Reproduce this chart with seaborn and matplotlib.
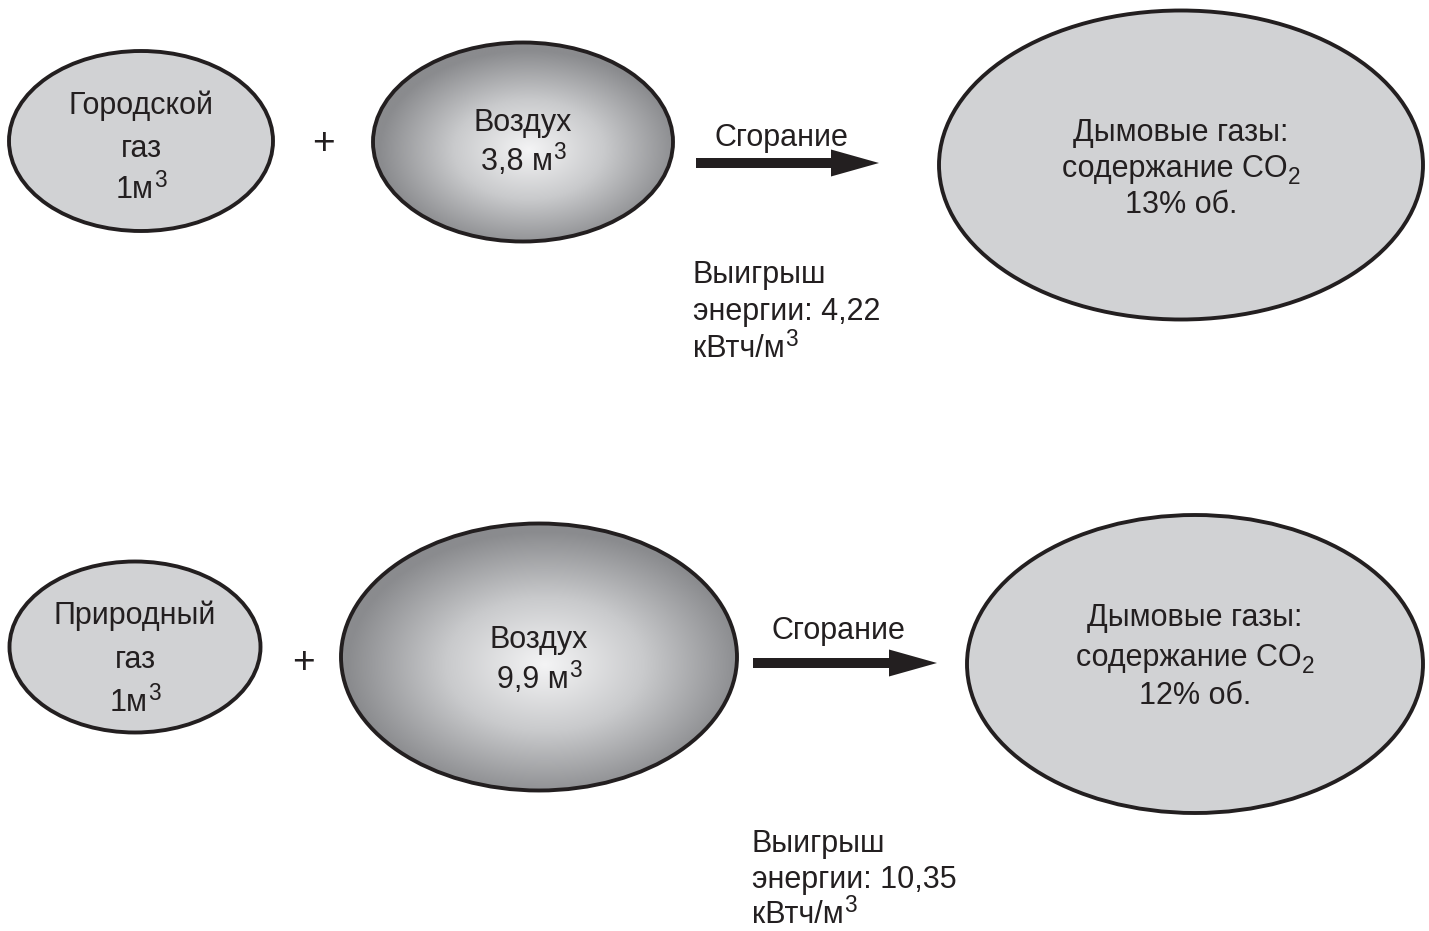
import numpy as np
import matplotlib
matplotlib.use("Agg")
import matplotlib.pyplot as plt
from matplotlib.patches import Ellipse, FancyArrow
import seaborn as sns

# values shown in the diagram
fuel_names = ["Городской", "Природный"]
fuel_volume = [1, 1]
air_volume = [3.8, 9.9]
co2_share = [13, 12]
energy_gain = [4.22, 10.35]

# layout of each row, in pixels of the 1429x931 picture
rows = [
    dict(fuel=(141, 141, 264, 180), fuel_y=[103, 146, 187], plus=(323, 144),
         air=(523, 142, 300, 199), air_y=[120, 159],
         arrow=(696, 879, 163), burn=(781, 135),
         flue=(1181, 165, 484, 309), flue_y=[130, 166, 202],
         gain=(693, [272, 309, 346])),
    dict(fuel=(135, 647, 251, 171), fuel_y=[613, 657, 700], plus=(303, 663),
         air=(539, 657, 396, 267), air_y=[637, 677],
         arrow=(753, 937, 663), burn=(838, 628),
         flue=(1195, 664, 456, 298), flue_y=[615, 655, 693],
         gain=(752, [841, 877, 912])),
]

sns.set_theme(style="white")
plt.rcParams["font.family"] = ["Liberation Sans", "DejaVu Sans"]

ink = "#231f20"
fill_grey = "#d1d2d4"
air_cmap = sns.blend_palette(["#f4f4f5", "#c9cacc", "#8a8b8e"], as_cmap=True)
fs = 22
lw = 2.8


def fmt(v):
    return f"{v:g}".replace(".", ",")


fig = plt.figure(figsize=(14.29, 9.31), dpi=100)
ax = fig.add_axes([0, 0, 1, 1])
ax.set_xlim(0, 1429)
ax.set_ylim(931, 0)
renderer = fig.canvas.get_renderer()


def label(x, y, s, ha="center", small=None, shift=0):
    # y is the visual centre of the line; small is a superscript/subscript
    base = y + 11
    tb = ax.text(x, base, s, fontsize=fs, color=ink, va="baseline", ha="left", zorder=3)
    if small is None:
        tb.set_ha(ha)
        return
    ts = ax.text(x, base + shift, small, fontsize=fs * 0.74, color=ink,
                 va="baseline", ha="left", zorder=3)
    wb = tb.get_window_extent(renderer).width
    ws = ts.get_window_extent(renderer).width
    x0 = x - (wb + ws) / 2 if ha == "center" else x
    tb.set_x(x0)
    ts.set_x(x0 + wb + 0.5)


for i, r in enumerate(rows):
    # fuel
    cx, cy, w, h = r["fuel"]
    ax.add_patch(Ellipse((cx, cy), w, h, facecolor=fill_grey, edgecolor=ink, lw=lw, zorder=2))
    fy = r["fuel_y"]
    label(cx, fy[0], fuel_names[i])
    label(cx, fy[1], "газ")
    label(cx, fy[2], f"{fuel_volume[i]}м", small="3", shift=-11)

    ax.text(*r["plus"], "+", fontsize=28, color=ink, ha="center", va="center")

    # air with radial shading
    cx, cy, w, h = r["air"]
    gx, gy = cx + 6, cy + 8
    xs = np.linspace(cx - w / 2, cx + w / 2, 400)
    ys = np.linspace(cy - h / 2, cy + h / 2, 400)
    X, Y = np.meshgrid(xs, ys)
    R = np.sqrt(((X - gx) / (w / 2)) ** 2 + ((Y - gy) / (h / 2)) ** 2)
    im = ax.imshow(np.clip(R, 0, 1), cmap=air_cmap, vmin=0, vmax=1, origin="upper",
                   extent=(cx - w / 2, cx + w / 2, cy + h / 2, cy - h / 2),
                   aspect="auto", interpolation="bilinear", zorder=1)
    clip = Ellipse((cx, cy), w, h, transform=ax.transData, facecolor="none", edgecolor="none")
    ax.add_patch(clip)
    im.set_clip_path(clip)
    ax.add_patch(Ellipse((cx, cy), w, h, facecolor="none", edgecolor=ink, lw=lw, zorder=2))
    label(cx, r["air_y"][0], "Воздух")
    label(cx, r["air_y"][1], f"{fmt(air_volume[i])} м", small="3", shift=-11)

    # combustion arrow
    x0, x1, ya = r["arrow"]
    ax.add_patch(FancyArrow(x0, ya, x1 - x0, 0, width=10, head_width=27, head_length=48,
                            length_includes_head=True, color=ink, lw=0, zorder=2))
    label(r["burn"][0], r["burn"][1], "Сгорание")

    # flue gas
    cx, cy, w, h = r["flue"]
    ax.add_patch(Ellipse((cx, cy), w, h, facecolor=fill_grey, edgecolor=ink, lw=lw, zorder=2))
    fy = r["flue_y"]
    label(cx, fy[0], "Дымовые газы:")
    label(cx, fy[1], "содержание CO", small="2", shift=7)
    label(cx, fy[2], f"{co2_share[i]}% об.")

    # energy gain
    gx0, gys = r["gain"]
    label(gx0, gys[0], "Выигрыш", ha="left")
    label(gx0, gys[1], f"энергии: {fmt(energy_gain[i])}", ha="left")
    label(gx0, gys[2], "кВтч/м", ha="left", small="3", shift=-11)

ax.set_xlim(0, 1429)
ax.set_ylim(931, 0)
ax.axis("off")

fig.savefig("out.png", dpi=100, facecolor="white")
